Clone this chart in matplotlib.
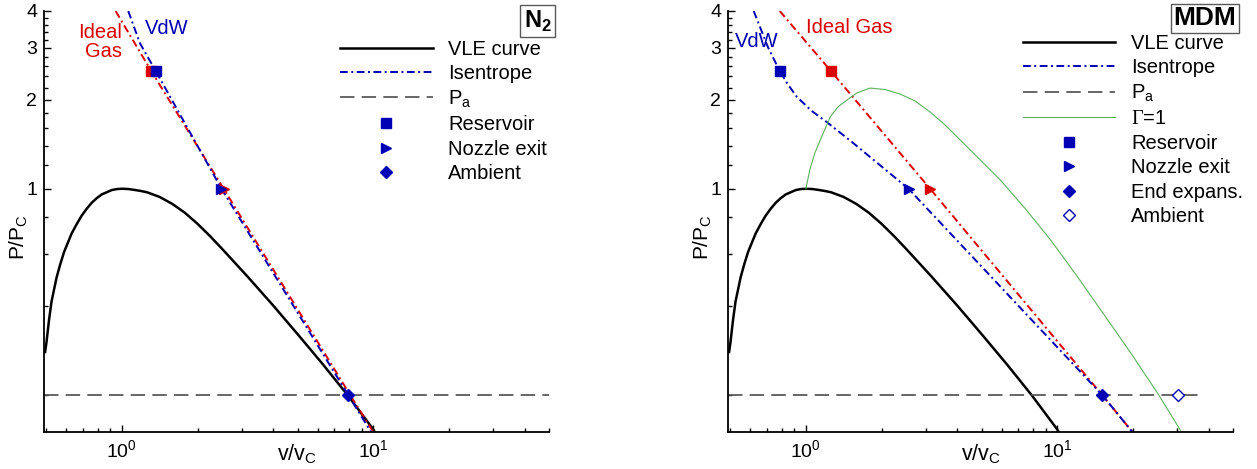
import numpy as np
import matplotlib
matplotlib.use("Agg")
import matplotlib.pyplot as plt
from matplotlib.ticker import FixedLocator, FixedFormatter, NullFormatter, LogLocator

plt.rcParams['font.family'] = ['Liberation Sans', 'DejaVu Sans']
plt.rcParams['mathtext.fontset'] = 'custom'
plt.rcParams['mathtext.rm'] = 'Liberation Sans'
plt.rcParams['mathtext.bf'] = 'Liberation Sans:bold'
plt.rcParams['mathtext.sf'] = 'Liberation Serif'

# VLE curve (same reduced curve in both panels)
vle_v = [0.495, 0.501, 0.513, 0.525, 0.550, 0.569, 0.589, 0.631, 0.661, 0.692, 0.724,
         0.759, 0.794, 0.832, 0.912, 0.955, 1.0, 1.059, 1.122, 1.189, 1.259, 1.413,
         1.585, 1.778, 1.995, 2.239, 2.512, 3.162, 3.981, 5.012, 6.310, 7.943, 10.0, 10.09]
vle_p = [0.28, 0.301, 0.359, 0.415, 0.501, 0.556, 0.611, 0.705, 0.759, 0.811, 0.855,
         0.897, 0.929, 0.957, 0.990, 0.9975, 1.0, 0.998, 0.991, 0.983, 0.973, 0.938,
         0.889, 0.830, 0.762, 0.692, 0.624, 0.504, 0.404, 0.321, 0.254, 0.199, 0.153, 0.151]

p_amb = 0.2

# N2 isentropes
n2_ig_v = [0.944, 1.31, 2.54, 8.1, 10.0]
n2_ig_p = [4.0, 2.5, 1.0, 0.2, 0.15]
n2_vdw_v = [1.06, 1.18, 1.365, 2.49, 7.95, 9.8]
n2_vdw_p = [4.0, 3.11, 2.5, 1.0, 0.2, 0.15]
n2_res = {'ig': (1.31, 2.5), 'vdw': (1.365, 2.5)}
n2_exit = {'ig': (2.54, 1.0), 'vdw': (2.49, 1.0)}
n2_amb = (7.95, 0.2)

# MDM isentropes
mdm_ig_v = [0.787, 1.26, 3.12, 15.1, 19.9]
mdm_ig_p = [4.0, 2.5, 1.0, 0.2, 0.15]
mdm_vdw_v = [0.62, 0.706, 0.788, 0.85, 0.92, 1.05, 1.224, 1.54, 2.56, 15.1, 19.9]
mdm_vdw_p = [4.0, 3.02, 2.5, 2.25, 2.05, 1.84, 1.67, 1.43, 1.0, 0.2, 0.15]
mdm_res = {'ig': (1.26, 2.5), 'vdw': (0.788, 2.5)}
mdm_exit = {'ig': (3.12, 1.0), 'vdw': (2.56, 1.0)}
mdm_end = (15.1, 0.2)
mdm_amb = (30.1, 0.2)

# Gamma = 1 line (MDM)
gam_v = [1.0, 1.037, 1.086, 1.14, 1.25, 1.341, 1.46, 1.596, 1.799, 2.064, 2.369, 2.719,
         3.119, 3.579, 4.107, 4.934, 5.928, 7.458, 9.378, 11.79, 14.84, 19.54, 25.26, 30.9]
gam_p = [1.0, 1.16, 1.323, 1.46, 1.75, 1.893, 2.0, 2.111, 2.193, 2.168, 2.094, 1.983,
         1.820, 1.645, 1.464, 1.253, 1.072, 0.856, 0.673, 0.516, 0.390, 0.279, 0.201, 0.152]

blue = '#0000b4'
red = '#dd0000'
green = '#5cb25c'
gray = '#5a5a5a'
isen_ls = (0, (4, 1.8, 1, 1.8))
isen_lw = 1.4

fig = plt.figure(figsize=(12.57, 4.69), dpi=100)
ax1 = fig.add_axes([44 / 1257, 37 / 469, 505 / 1257, 421 / 469])
ax2 = fig.add_axes([728 / 1257, 37 / 469, 505 / 1257, 421 / 469])


def style(ax):
    ax.set_xscale('log')
    ax.set_yscale('log')
    ax.set_xlim(0.49, 50)
    ax.set_ylim(0.15, 4)
    for s in ['top', 'right']:
        ax.spines[s].set_visible(False)
    for s in ['left', 'bottom']:
        ax.spines[s].set_linewidth(1.3)
    ax.yaxis.set_major_locator(FixedLocator([1, 2, 3, 4]))
    ax.yaxis.set_minor_locator(FixedLocator(np.arange(0.2, 3.9, 0.2)))
    ax.yaxis.set_major_formatter(FixedFormatter(['1', '2', '3', '4']))
    ax.yaxis.set_minor_formatter(NullFormatter())
    ax.xaxis.set_major_locator(LogLocator(base=10, numticks=10))
    ax.xaxis.set_minor_locator(LogLocator(base=10, subs=np.arange(2, 10), numticks=10))
    ax.xaxis.set_minor_formatter(NullFormatter())
    ax.tick_params(which='both', direction='in', width=1.0, labelsize=14)
    ax.tick_params(which='major', length=5, pad=5)
    ax.tick_params(which='minor', length=3)
    ax.set_xlabel('v/v$_{\\rm C}$', fontsize=15.5, labelpad=-13)
    ax.set_ylabel('P/P$_{\\rm C}$', fontsize=15)
    ax.yaxis.set_label_coords(-0.027, 0.463)


# ---- N2 panel
style(ax1)
ax1.plot(vle_v, vle_p, color='black', lw=1.8, label='VLE curve')
ax1.plot(n2_ig_v, n2_ig_p, color=red, lw=isen_lw, ls=isen_ls)
ax1.plot(n2_vdw_v, n2_vdw_p, color=blue, lw=isen_lw, ls=isen_ls, label='Isentrope')
ax1.plot([0.49, 50], [p_amb, p_amb], color=gray, lw=1.3, ls=(0, (8, 4)), label='P$_{\\rm a}$')
ax1.plot(*n2_res['ig'], 's', color=red, ms=7.2)
ax1.plot(*n2_exit['ig'], '>', color=red, ms=7.5)
ax1.plot(*n2_res['vdw'], 's', color=blue, ms=7.2, label='Reservoir')
ax1.plot(*n2_exit['vdw'], '>', color=blue, ms=7.5, label='Nozzle exit')
ax1.plot(*n2_amb, 'D', color=blue, ms=6.6, label='Ambient')
ax1.text(1.0, 3.14, 'Ideal\nGas', color=red, fontsize=14.5, ha='right', va='center',
         multialignment='right', linespacing=1.0)
ax1.text(1.23, 3.5, 'VdW', color=blue, fontsize=14.5, ha='left', va='center')
ax1.legend(loc='upper left', bbox_to_anchor=(0.586, 0.932), frameon=False, fontsize=14.5,
           borderpad=0, borderaxespad=0, handlelength=4.62, handletextpad=0.75,
           labelspacing=0.27)
ax1.text(0.978, 0.976, 'N$_{\\bf 2}$', transform=ax1.transAxes, fontsize=17,
         fontweight='bold', ha='center', va='center', clip_on=False,
         bbox=dict(boxstyle='square,pad=0.15', fc='white', ec=gray, lw=1.0))

# ---- MDM panel
style(ax2)
ax2.plot(vle_v, vle_p, color='black', lw=1.8, label='VLE curve')
ax2.plot(mdm_ig_v, mdm_ig_p, color=red, lw=isen_lw, ls=isen_ls)
ax2.plot(mdm_vdw_v, mdm_vdw_p, color=blue, lw=isen_lw, ls=isen_ls, label='Isentrope')
ax2.plot([0.49, 38.5], [p_amb, p_amb], color=gray, lw=1.3, ls=(0, (8, 4)), label='P$_{\\rm a}$')
ax2.plot(gam_v, gam_p, color=green, lw=0.8, label='$\\mathsf{\\Gamma}$=1')
ax2.plot(*mdm_res['ig'], 's', color=red, ms=7.2)
ax2.plot(*mdm_exit['ig'], '>', color=red, ms=7.5)
ax2.plot(*mdm_res['vdw'], 's', color=blue, ms=7.2, label='Reservoir')
ax2.plot(*mdm_exit['vdw'], '>', color=blue, ms=7.5, label='Nozzle exit')
ax2.plot(*mdm_end, 'D', color=blue, ms=6.6, label='End expans.')
ax2.plot(*mdm_amb, 'D', mfc='white', mec=blue, mew=1.0, ms=6.6, label='Ambient')
ax2.text(0.52, 3.16, 'VdW', color=blue, fontsize=14.5, ha='left', va='center')
ax2.text(1.0, 3.53, 'Ideal Gas', color=red, fontsize=14.5, ha='left', va='center')
ax2.legend(loc='upper left', bbox_to_anchor=(0.584, 0.946), frameon=False, fontsize=14.5,
           borderpad=0, borderaxespad=0, handlelength=4.58, handletextpad=0.8,
           labelspacing=0.27)
ax2.text(0.9436, 0.983, 'MDM', transform=ax2.transAxes, fontsize=19,
         fontweight='bold', ha='center', va='center', clip_on=False,
         bbox=dict(boxstyle='square,pad=0.1', fc='white', ec=gray, lw=1.0))

fig.savefig('out.png', dpi=100)
